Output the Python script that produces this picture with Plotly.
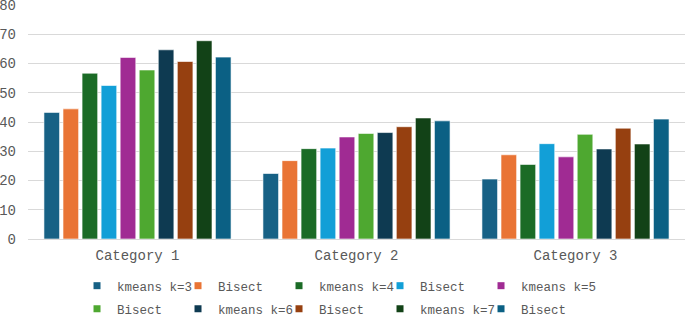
import plotly.graph_objects as go

categories = ["Category 1", "Category 2", "Category 3"]
series_names = ["kmeans k=3", "Bisect", "kmeans k=4", "Bisect", "kmeans k=5",
                "Bisect", "kmeans k=6", "Bisect", "kmeans k=7", "Bisect"]
kmeans3 = [43.3, 22.4, 20.5]
bisect3 = [44.5, 26.8, 28.8]
kmeans4 = [56.7, 30.9, 25.5]
bisect4 = [52.5, 31.1, 32.6]
kmeans5 = [62.1, 34.9, 28.1]
bisect5 = [57.8, 36.1, 35.8]
kmeans6 = [64.7, 36.4, 30.8]
bisect6 = [60.7, 38.4, 37.9]
kmeans7 = [67.8, 41.4, 32.5]
bisect7 = [62.2, 40.4, 41.0]
series_values = [kmeans3, bisect3, kmeans4, bisect4, kmeans5,
                 bisect5, kmeans6, bisect6, kmeans7, bisect7]
colors = ["#176185", "#E97435", "#1B6B26", "#129FD7", "#A02B93",
          "#4EA830", "#0E3A51", "#964010", "#124217", "#0B6084"]
y_ticks = [0, 10, 20, 30, 40, 50, 60, 70, 80]

FONT = "Liberation Mono, Courier New, monospace"
TXT = "#595959"

legend_of = ["legend"] * 4 + ["legend3"] + ["legend2"] * 5

fig = go.Figure()
for i, (name, vals, col) in enumerate(zip(series_names, series_values, colors)):
    fig.add_trace(go.Bar(
        x=categories, y=vals, name=name, legendgroup=f"g{i}", showlegend=False,
        marker=dict(color=col, line=dict(color="rgba(255,255,255,0.6)", width=1)),
    ))
for i, (name, col) in enumerate(zip(series_names, colors)):
    fig.add_trace(go.Scatter(
        x=[None], y=[None], mode="markers", name=name, legendgroup=f"g{i}",
        marker=dict(symbol="square", size=7, color=col), showlegend=True,
        legend=legend_of[i],
    ))

leg_common = dict(orientation="h", xanchor="left", yanchor="top",
                  font=dict(family=FONT, size=12.5, color=TXT),
                  traceorder="normal", tracegroupgap=0, itemwidth=30,
                  bgcolor="rgba(0,0,0,0)")

x0 = 0.0746
x5 = x0 + 4 * 101 / 657

fig.update_layout(
    width=685, height=316,
    margin=dict(l=28, r=0, t=5, b=77, autoexpand=False),
    paper_bgcolor="white", plot_bgcolor="white",
    barmode="group", bargap=0.13, bargroupgap=0.18,
    font=dict(family=FONT, size=14, color=TXT),
    showlegend=True,
    legend=dict(x=x0, y=-0.137, entrywidth=56, **leg_common),
    legend2=dict(x=x0, y=-0.236, entrywidth=56, **leg_common),
    legend3=dict(x=x5, y=-0.137, **leg_common),
    yaxis=dict(range=[0, 80.02], tickvals=y_ticks, showgrid=True, gridcolor="#D9D9D9",
               gridwidth=1, zeroline=False, showline=False, ticks="",
               ticklabeloverflow="allow",
               tickfont=dict(family=FONT, size=14, color=TXT), ticklabelstandoff=11),
    xaxis=dict(showline=True, linecolor="#D9D9D9", linewidth=1, ticks="",
               ticklabelstandoff=3,
               tickfont=dict(family=FONT, size=14, color=TXT)),
)

fig.write_html("out.html", config={"displayModeBar": False},
               post_script="document.body.style.margin='0';")
